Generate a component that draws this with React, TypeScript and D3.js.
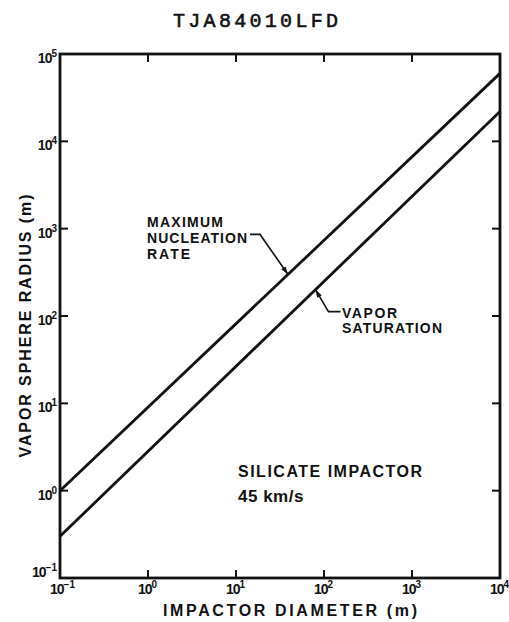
import React from 'react';
import * as d3 from 'd3';

// impactor diameter (m) at the two ends of the plotted range
const diameters = [0.1, 1e4];
// vapor sphere radius (m) read at those diameters
const nucleationRadius = [1.0, 6.0e4];
const saturationRadius = [0.3, 2.2e4];

const xExponents = [-1, 0, 1, 2, 3, 4];
const yExponents = [-1, 0, 1, 2, 3, 4, 5];

const title = 'TJA84010LFD';
const xTitle = 'IMPACTOR DIAMETER (m)';
const yTitle = 'VAPOR SPHERE RADIUS (m)';
const nucleationLabel = ['MAXIMUM', 'NUCLEATION', 'RATE'];
const saturationLabel = ['VAPOR', 'SATURATION'];
const noteLines = ['SILICATE IMPACTOR', '45 km/s'];

// diameters where the leader arrows touch each line
const nucleationArrowAt = 39;
const saturationArrowAt = 80;

const W = 509;
const H = 622;
const ink = '#111';
const sans = '"Liberation Sans", Arial, sans-serif';

const margin = { top: 54, right: 9, bottom: 44, left: 60 };

function App() {
  const x = d3.scaleLog().domain([diameters[0], diameters[1]]).range([margin.left, W - margin.right]);
  const y = d3.scaleLog().domain([0.1, 1e5]).range([H - margin.bottom, margin.top]);
  const x0 = x.range()[0], x1 = x.range()[1];
  const y0 = y.range()[0], y1 = y.range()[1];

  const line = d3.line<[number, number]>().x(d => x(d[0])).y(d => y(d[1]));
  const pts = (vals: number[]) => diameters.map((d, i) => [d, vals[i]] as [number, number]);

  // value on a straight log-log line
  const along = (vals: number[], d: number) => {
    const t = (Math.log10(d) - Math.log10(diameters[0])) / (Math.log10(diameters[1]) - Math.log10(diameters[0]));
    return Math.pow(10, Math.log10(vals[0]) + t * (Math.log10(vals[1]) - Math.log10(vals[0])));
  };

  const arrowHead = (fx: number, fy: number, tx: number, ty: number) => {
    const dx = tx - fx, dy = ty - fy;
    const len = Math.sqrt(dx * dx + dy * dy);
    const ux = dx / len, uy = dy / len;
    const bx = tx - ux * 8, by = ty - uy * 8;
    return `${tx},${ty} ${bx - uy * 2.6},${by + ux * 2.6} ${bx + uy * 2.6},${by - ux * 2.6}`;
  };

  const tickLen = 8;
  const nTip: [number, number] = [x(nucleationArrowAt), y(along(nucleationRadius, nucleationArrowAt))];
  const sTip: [number, number] = [x(saturationArrowAt), y(along(saturationRadius, saturationArrowAt))];
  const nElbow: [number, number] = [nTip[0] - 28, nTip[1] - 40];
  const sElbow: [number, number] = [sTip[0] + 13, sTip[1] + 22];

  return (
    <svg width={W} height={H} style={{ position: 'absolute', left: 0, top: 0, background: '#fff' }}>
      <text x={173} y={27} fontFamily='"Liberation Mono", monospace' fontSize={20} fill={ink}
        stroke={ink} strokeWidth={0.6} textLength={165} lengthAdjust="spacing">{title}</text>

      {/* frame */}
      <rect x={x0} y={y1} width={x1 - x0} height={y0 - y1} fill="none" stroke={ink} strokeWidth={2.8} />

      {/* ticks, inward on all four sides */}
      {xExponents.slice(1, -1).map(e => (
        <g key={'xt' + e} stroke={ink} strokeWidth={2}>
          <line x1={x(Math.pow(10, e))} x2={x(Math.pow(10, e))} y1={y0} y2={y0 - tickLen} />
          <line x1={x(Math.pow(10, e))} x2={x(Math.pow(10, e))} y1={y1} y2={y1 + tickLen} />
        </g>
      ))}
      {yExponents.slice(1, -1).map(e => (
        <g key={'yt' + e} stroke={ink} strokeWidth={2}>
          <line x1={x0} x2={x0 + tickLen} y1={y(Math.pow(10, e))} y2={y(Math.pow(10, e))} />
          <line x1={x1} x2={x1 - tickLen} y1={y(Math.pow(10, e))} y2={y(Math.pow(10, e))} />
        </g>
      ))}

      {/* tick labels */}
      {xExponents.map(e => (
        <text key={'xl' + e} x={x(Math.pow(10, e)) - 10} y={594} fontFamily={sans} fontWeight="bold"
          fontSize={14} fill={ink} letterSpacing={-1}>
          10<tspan fontSize={10} dy={-6} letterSpacing={0}>{e < 0 ? '−' + Math.abs(e) : e}</tspan>
        </text>
      ))}
      {yExponents.map(e => (
        <text key={'yl' + e} x={57} y={y(Math.pow(10, e)) + (e < 0 ? -1 : 9)} textAnchor="end"
          fontFamily={sans} fontWeight="bold" fontSize={14} fill={ink} letterSpacing={-1}>
          10<tspan fontSize={10} dy={-6} letterSpacing={0}>{e < 0 ? '−' + Math.abs(e) : e}</tspan>
        </text>
      ))}

      {/* axis titles */}
      <text x={163} y={616} fontFamily={sans} fontWeight="bold" fontSize={16} fill={ink}
        textLength={254} lengthAdjust="spacing">{xTitle}</text>
      <text transform="translate(31,326) rotate(-90)" textAnchor="middle" fontFamily={sans} fontWeight="bold"
        fontSize={16} fill={ink} textLength={263} lengthAdjust="spacing">{yTitle}</text>

      {/* the two lines */}
      <path d={line(pts(nucleationRadius)) || ''} fill="none" stroke={ink} strokeWidth={2.8} />
      <path d={line(pts(saturationRadius)) || ''} fill="none" stroke={ink} strokeWidth={2.8} />

      {/* annotations */}
      {nucleationLabel.map((t, i) => (
        <text key={t} x={147} y={227 + i * 16} fontFamily={sans} fontWeight="bold" fontSize={14} fill={ink}
          textLength={[76, 100, 43][i]} lengthAdjust="spacing">{t}</text>
      ))}
      <polyline points={`${nElbow[0] - 10},${nElbow[1]} ${nElbow[0]},${nElbow[1]} ${nTip[0]},${nTip[1]}`}
        fill="none" stroke={ink} strokeWidth={1.6} />
      <polygon points={arrowHead(nElbow[0], nElbow[1], nTip[0], nTip[1])} fill={ink} />

      {saturationLabel.map((t, i) => (
        <text key={t} x={342} y={318 + i * 15} fontFamily={sans} fontWeight="bold" fontSize={14} fill={ink}
          textLength={[55, 100][i]} lengthAdjust="spacing">{t}</text>
      ))}
      <polyline points={`${sElbow[0] + 12},${sElbow[1]} ${sElbow[0]},${sElbow[1]} ${sTip[0]},${sTip[1]}`}
        fill="none" stroke={ink} strokeWidth={1.6} />
      <polygon points={arrowHead(sElbow[0], sElbow[1], sTip[0], sTip[1])} fill={ink} />

      <text x={238} y={477} fontFamily={sans} fontWeight="bold" fontSize={16} fill={ink}
        textLength={184} lengthAdjust="spacing">{noteLines[0]}</text>
      <text x={238} y={502} fontFamily={sans} fontWeight="bold" fontSize={17} fill={ink}
        letterSpacing={0.5}>{noteLines[1]}</text>
    </svg>
  );
}

export default App;
